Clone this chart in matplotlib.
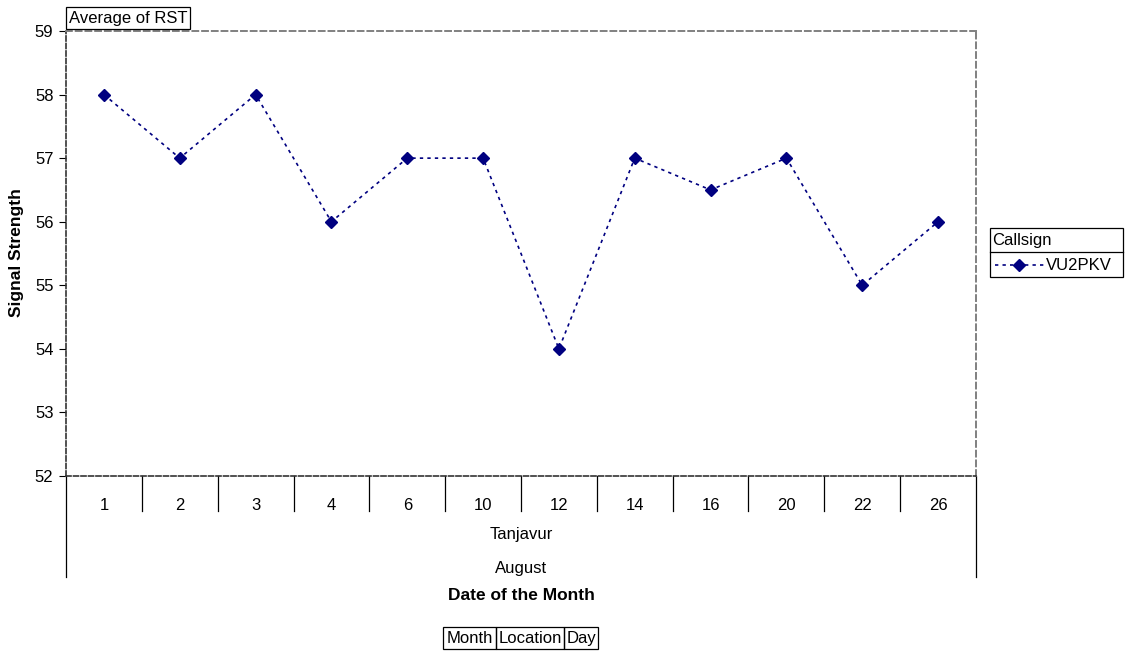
import matplotlib
matplotlib.use("Agg")
import matplotlib.pyplot as plt
from matplotlib.patches import Rectangle
from matplotlib.lines import Line2D
import matplotlib.transforms as mtransforms

plt.rcParams['font.family'] = ['Liberation Sans', 'DejaVu Sans']

days = ["1", "2", "3", "4", "6", "10", "12", "14", "16", "20", "22", "26"]
signal = [58, 57, 58, 56, 57, 57, 54, 57, 56.5, 57, 55, 56]
location = "Tanjavur"
month = "August"
series_name = "VU2PKV"
y_ticks = [52, 53, 54, 55, 56, 57, 58, 59]

W, H = 1125, 651
fig = plt.figure(figsize=(W / 100, H / 100), dpi=100)
FS = 12
FSB = 12.5

def fx(px):
    return px / W

def fy(py):
    return 1 - py / H

left, right, top, bottom = 66, 976, 31, 476
ax = fig.add_axes([fx(left), fy(bottom), fx(right - left), (bottom - top) / H])

navy = "#000080"
x = list(range(len(days)))
ax.plot(x, signal, linestyle=(0, (2, 2.5)), color=navy, linewidth=1.2,
        marker="D", markersize=6.5, markerfacecolor=navy, markeredgecolor=navy,
        clip_on=False)

ax.set_xlim(-0.5, len(days) - 0.5)
ax.set_ylim(52, 59)
ax.set_yticks(y_ticks)
ax.set_yticklabels([str(v) for v in y_ticks], fontsize=FS)
ax.tick_params(axis="y", direction="out", length=5, width=0.8, pad=4, colors="black")
ax.set_xticks(x)
ax.set_xticklabels(days, fontsize=FS)
ax.tick_params(axis="x", length=0, pad=16)

# plot-area border: dark dashes on the axes, grey dashes on the far sides
for side in ("left", "bottom"):
    ax.spines[side].set_linestyle((0, (3, 1.5)))
    ax.spines[side].set_color("#333333")
    ax.spines[side].set_linewidth(1.2)
for side in ("top", "right"):
    ax.spines[side].set_linestyle((0, (3, 2)))
    ax.spines[side].set_color("#808080")
    ax.spines[side].set_linewidth(1.4)

ah = bottom - top
trans = mtransforms.blended_transform_factory(ax.transData, ax.transAxes)

# category separators below the axis
for i in range(len(days) - 1):
    ax.add_line(Line2D([i + 0.5, i + 0.5], [0, -35 / ah], transform=trans,
                       color="black", linewidth=0.9, clip_on=False))
# outer bracket lines spanning the multi-level labels
for xe in (-0.5, len(days) - 0.5):
    ax.add_line(Line2D([xe, xe], [0, -101 / ah], transform=trans,
                       color="black", linewidth=0.9, clip_on=False))

mid = (len(days) - 1) / 2
ax.text(mid, -(534 - bottom) / ah, location, transform=trans, ha="center",
        va="center", fontsize=FS)
ax.text(mid, -(568 - bottom) / ah, month, transform=trans, ha="center",
        va="center", fontsize=FS)
ax.text(mid, -(595 - bottom) / ah, "Date of the Month", transform=trans,
        ha="center", va="center", fontsize=FSB, fontweight="bold")

fig.text(fx(17), fy(253), "Signal Strength", rotation=90, ha="center",
         va="center", fontsize=FSB, fontweight="bold")

# field button above the plot
fig.patches.append(Rectangle((fx(66), fy(29)), fx(190 - 66), (29 - 7) / H,
                             transform=fig.transFigure, fill=False,
                             edgecolor="black", linewidth=0.9))
fig.text(fx(69), fy(18), "Average of RST", ha="left", va="center", fontsize=FS)

# field buttons below the plot
btn_edges = [443, 496, 564, 598]
btn_labels = ["Month", "Location", "Day"]
for (a, b), lab in zip(zip(btn_edges[:-1], btn_edges[1:]), btn_labels):
    fig.patches.append(Rectangle((fx(a), fy(649)), fx(b - a), (649 - 627) / H,
                                 transform=fig.transFigure, fill=False,
                                 edgecolor="black", linewidth=0.9))
    fig.text(fx((a + b) / 2), fy(638.5), lab, ha="center", va="center", fontsize=FS)

# legend box
lx0, lx1, ly0, lym, ly1 = 990, 1123, 228, 252, 277
fig.patches.append(Rectangle((fx(lx0), fy(ly1)), fx(lx1 - lx0), (ly1 - ly0) / H,
                             transform=fig.transFigure, fill=False,
                             edgecolor="black", linewidth=0.9))
fig.add_artist(Line2D([fx(lx0), fx(lx1)], [fy(lym), fy(lym)],
                      transform=fig.transFigure, color="black", linewidth=0.9))
fig.text(fx(992), fy(240), "Callsign", ha="left", va="center", fontsize=FS)
fig.add_artist(Line2D([fx(995), fx(1044)], [fy(265), fy(265)],
                      transform=fig.transFigure, color=navy, linewidth=1.2,
                      linestyle=(0, (2, 2.5))))
fig.add_artist(Line2D([fx(1019)], [fy(265)], transform=fig.transFigure,
                      marker="D", markersize=6.5, color=navy, linestyle="none"))
fig.text(fx(1046), fy(265), series_name, ha="left", va="center", fontsize=FS)

fig.savefig("out.png", dpi=100, facecolor="white")
